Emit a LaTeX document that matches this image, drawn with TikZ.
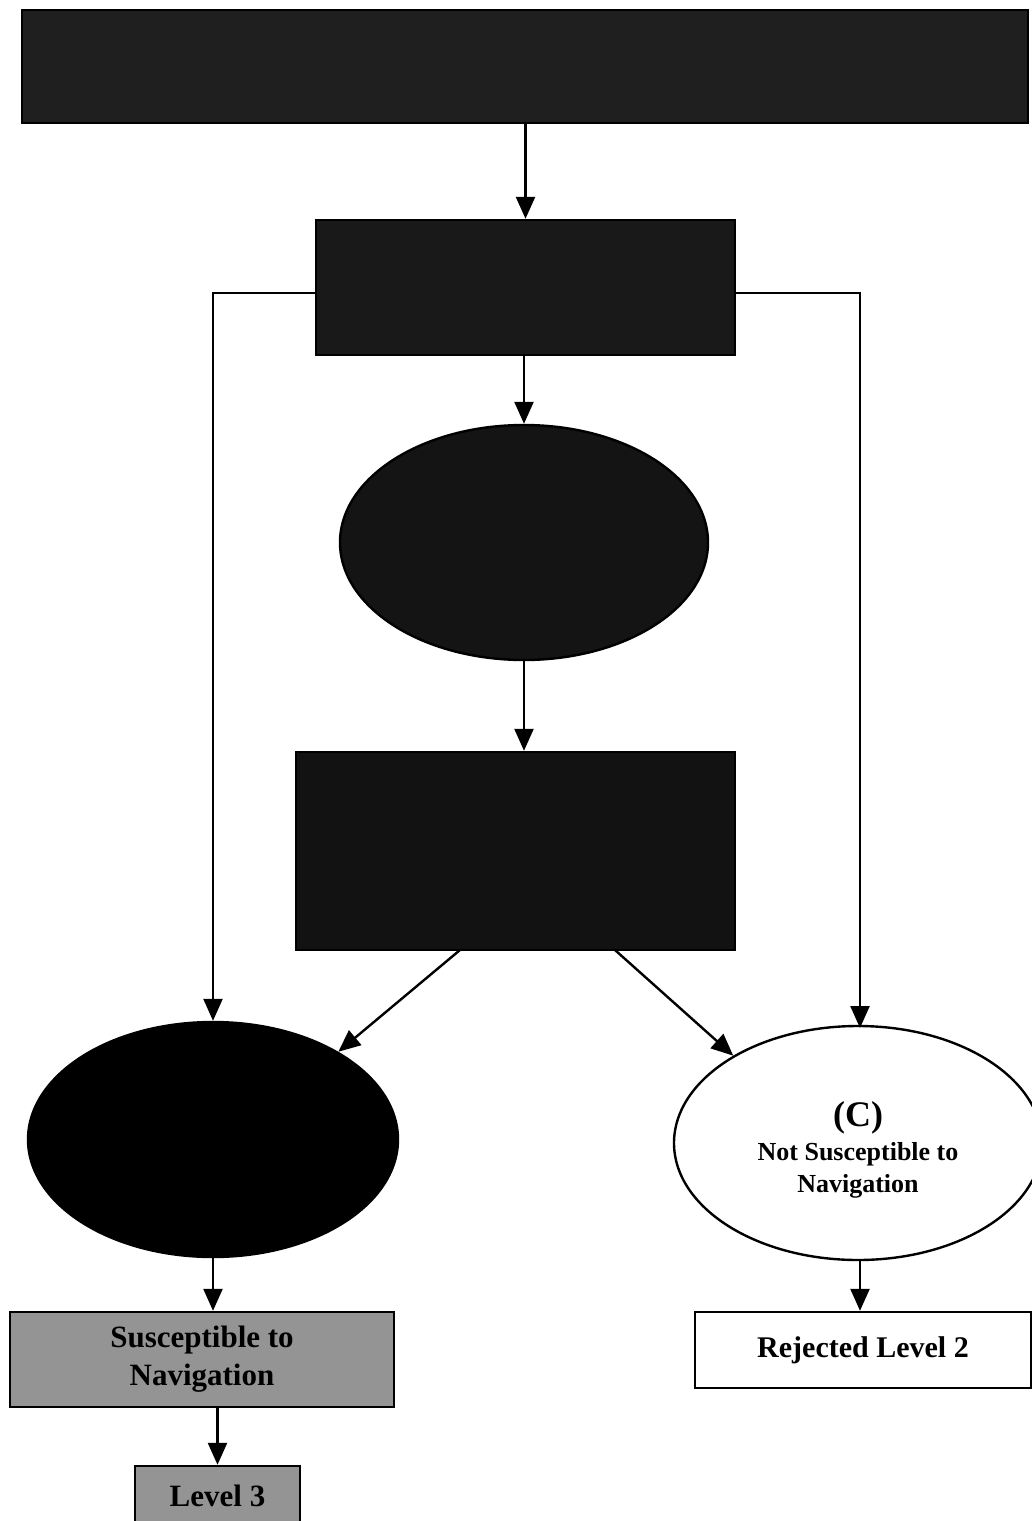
\documentclass[tikz,border=0pt]{standalone}
\usepackage{fontspec}
\setmainfont{Liberation Serif}
\usetikzlibrary{shapes.geometric,arrows.meta}
\begin{document}
\begin{tikzpicture}[x=1pt,y=-1pt,
  line width=2.4pt,
  arr/.style={-{Triangle[length=22pt,width=19pt]}},
  darkbox/.style={draw=black,fill=black!90,inner sep=0pt,rectangle},
  darkell/.style={draw=black,fill=black!92,inner sep=0pt,ellipse},
  greybox/.style={draw=black,fill=black!42,inner sep=0pt,rectangle,align=center,font=\bfseries\fontsize{31}{38}\selectfont},
  whitebox/.style={draw=black,fill=white,inner sep=0pt,rectangle,align=center,font=\bfseries\fontsize{30}{36}\selectfont},
  txt/.style={inner sep=0pt,align=center,font=\bfseries\fontsize{26}{32}\selectfont}]
\useasboundingbox (0,0) rectangle (1031,1521);
\fill[white] (0,0) rectangle (1031,1521);
\node[darkbox,fill=black!88,minimum width=1006pt,minimum height=113pt] (top) at (525,66.5) {};
\node[darkbox,minimum width=419pt,minimum height=135pt] (b2) at (525.5,287.5) {};
\node[darkell,minimum width=368pt,minimum height=235pt] (e1) at (524,542.5) {};
\node[darkbox,fill=black!93,minimum width=439pt,minimum height=198pt] (b3) at (515.5,851) {};
\node[darkell,fill=black,minimum width=370pt,minimum height=235pt] (eA) at (213,1139.5) {};
\node[draw=black,fill=white,ellipse,inner sep=0pt,minimum width=368pt,minimum height=234pt] (eC) at (858,1143) {};
\node[txt] (eCt) at (858,1150) {{\fontsize{36}{36}\selectfont (C)}\\[2pt]Not Susceptible to\\Navigation};
\node[greybox,minimum width=384pt,minimum height=95pt] (sus) at (202,1359.5) {Susceptible to\\Navigation};
\node[draw=black,fill=black!42,inner sep=0pt,minimum width=165pt,minimum height=66pt] (l3) at (217.5,1499) {};
\node[inner sep=0pt,font=\bfseries\fontsize{31}{36}\selectfont] (l3t) at (217.5,1496) {Level 3};
\node[whitebox,minimum width=336pt,minimum height=76pt] (rej) at (863,1350) {Rejected Level 2};
\coordinate (b2l) at (316,293);
\coordinate (b2r) at (735,293);
\coordinate (d1) at (460,950);
\coordinate (d2) at (615,950);
\coordinate (cIn) at (860,1028);
\coordinate (cOut) at (860,1260);
\draw[arr] (top.south -| b2.north) -- (b2.north);
\draw[arr] (b2.south -| e1.north) -- (e1.north);
\draw[arr] (e1.south) -- (e1.south |- b3.north);
\draw[arr] (b2l) -| (eA.north);
\draw[arr] (b2r) -| (cIn);
\draw[arr] (d1) -- (eA.35);
\draw[arr] (d2) -- (eC.145);
\draw[arr] (eA.south) -- (eA.south |- sus.north);
\draw[arr] (sus.south -| l3.north) -- (l3.north);
\draw[arr] (cOut) -- (cOut |- rej.north);
\end{tikzpicture}
\end{document}
